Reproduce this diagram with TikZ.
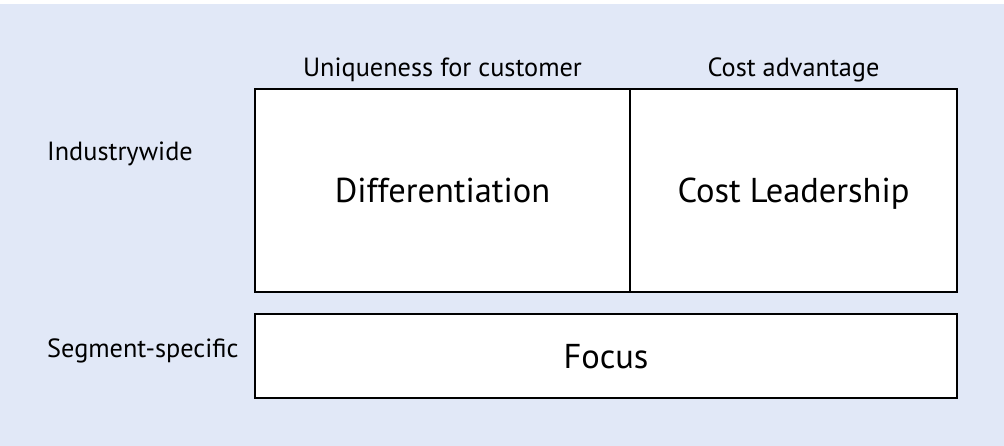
\documentclass[tikz,border=0pt]{standalone}
\usepackage{fontspec}
\setmainfont{PT Sans}
\definecolor{bgblue}{RGB}{225,232,247}
\tikzset{
  cell/.style={draw=black, line width=2pt, fill=white, inner sep=0pt, font=\fontsize{34.5}{34.5}\selectfont, text height=24pt, text depth=0pt},
  toplabel/.style={inner sep=0pt, anchor=base, font=\fontsize{26.3}{26.3}\selectfont},
  sidelabel/.style={inner sep=0pt, anchor=base west, font=\fontsize{26.3}{26.3}\selectfont}
}
\begin{document}
\begin{tikzpicture}[x=1pt, y=-1pt]
\useasboundingbox (0,0) rectangle (1004,446);
\fill[white] (0,0) rectangle (1004,446);
\fill[bgblue] (0,4) rectangle (1004,446);
\node[cell, minimum width=375pt, minimum height=203pt] (diff) at (442.5,190.5) {Differentiation};
\node[cell, minimum width=327pt, minimum height=203pt] (cost) at (793.5,190.5) {Cost Leadership};
\node[cell, minimum width=702pt, minimum height=84pt] (focus) at (606,356) {Focus};
\node[toplabel] (uniq) at (442.5,77) {Uniqueness for customer};
\node[toplabel] (costadv) at (793.5,77) {Cost advantage};
\node[sidelabel] (ind) at (47,161) {Industrywide};
\node[sidelabel] (seg) at (47,357) {Segment-specific};
\end{tikzpicture}
\end{document}
